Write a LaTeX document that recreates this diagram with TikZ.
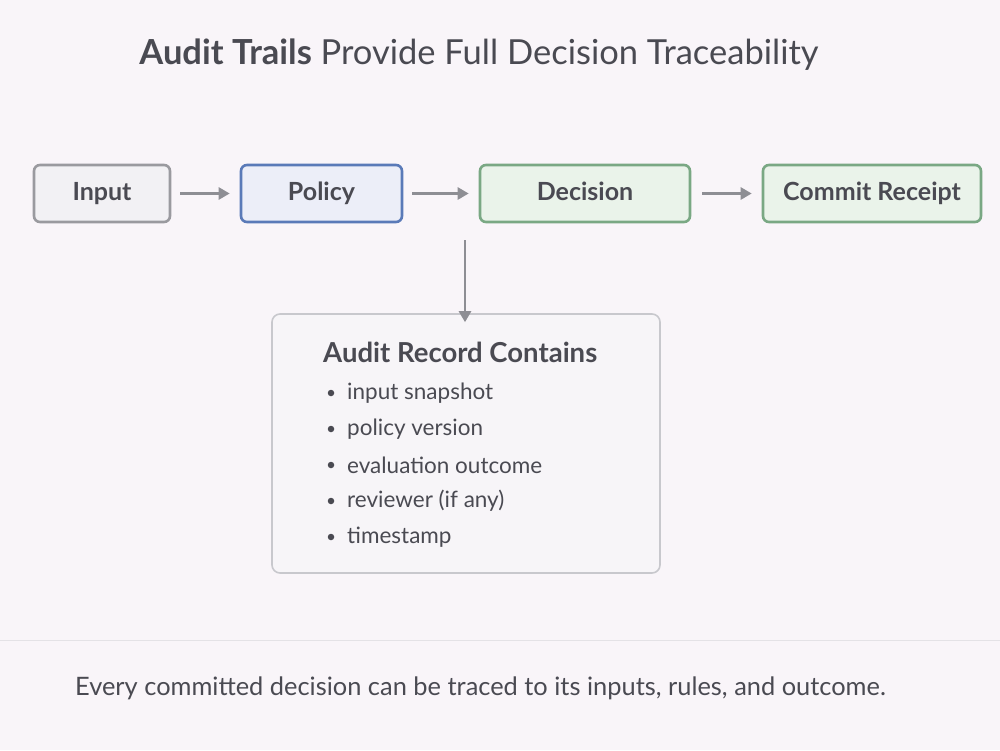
\documentclass[tikz,border=0pt]{standalone}
\usepackage{fontspec}
\setmainfont{Lato}
\usetikzlibrary{arrows.meta}
\definecolor{bg}{HTML}{F9F5F9}
\definecolor{txt}{HTML}{4A4A52}
\definecolor{grayb}{HTML}{9A9A9F}
\definecolor{grayf}{HTML}{F2F1F4}
\definecolor{blueb}{HTML}{5A7AB8}
\definecolor{bluef}{HTML}{ECEEF8}
\definecolor{greenb}{HTML}{7AA884}
\definecolor{greenf}{HTML}{EAF3EA}
\definecolor{arr}{HTML}{8E8E94}
\definecolor{panelb}{HTML}{C8C8CD}
\definecolor{panelf}{HTML}{F7F5F8}
\definecolor{sep}{HTML}{E4E2E6}
\tikzset{
  stage/.style={draw, line width=2.6pt, rounded corners=6pt, minimum height=57pt, text=txt, font=\fontsize{25}{30}\selectfont\bfseries, inner sep=0pt, text height=18pt, text depth=5pt},
  flow/.style={draw=arr, line width=2.6pt, -{Triangle[length=11pt,width=12pt]}},
  item/.style={anchor=west, text=txt, font=\fontsize{22.5}{27}\selectfont, inner sep=0pt},
  dot/.style={circle, fill=txt, inner sep=0pt, minimum size=6.5pt},
}
\begin{document}
\begin{tikzpicture}[x=1pt,y=-1pt]
\fill[bg] (0,0) rectangle (1000,750);
\useasboundingbox (0,0) rectangle (1000,750);
\node[text=txt, font=\fontsize{34.5}{40}\selectfont, anchor=center] (title) at (479,55) {\textbf{Audit Trails} Provide Full Decision Traceability};
\node[stage, draw=grayb, fill=grayf, minimum width=136pt] (input) at (102,193.5) {Input};
\node[stage, draw=blueb, fill=bluef, minimum width=161pt] (policy) at (321.5,193.5) {Policy};
\node[stage, draw=greenb, fill=greenf, minimum width=210pt] (decision) at (585,193.5) {Decision};
\node[stage, draw=greenb, fill=greenf, minimum width=218pt] (commit) at (872,193.5) {Commit Receipt};
\draw[flow] ([xshift=9pt]input.east) -- ([xshift=-10pt]policy.west);
\draw[flow] ([xshift=9pt]policy.east) -- ([xshift=-10pt]decision.west);
\draw[flow] ([xshift=11pt]decision.east) -- ([xshift=-10pt]commit.west);
\node[draw=panelb, fill=panelf, line width=1.6pt, rounded corners=8pt, minimum width=388pt, minimum height=259pt, inner sep=0pt] (panel) at (466,443.5) {};
\coordinate (dtop) at (465,240);
\draw[flow] (dtop) -- ([yshift=-9pt]panel.north -| dtop);
\node[anchor=west, text=txt, font=\fontsize{27.5}{32}\selectfont\bfseries, inner sep=0pt] (ptitle) at (323,352) {Audit Record Contains};
\foreach \y/\t/\n in {393/input snapshot/a, 429/policy version/b, 465/evaluation outcome/c, 501/reviewer (if any)/d, 537/timestamp/e}{
  \node[dot] (dot\n) at (331,\y) {};
  \node[item] (it\n) at (347,\y) {\t};
}
\coordinate (sl) at (0,640);
\coordinate (sr) at (1000,640);
\draw[sep, line width=1pt] (sl) -- (sr);
\node[anchor=west, text=txt, font=\fontsize{25.4}{30}\selectfont, inner sep=0pt] (foot) at (75,688) {Every committed decision can be traced to its inputs, rules, and outcome.};
\end{tikzpicture}
\end{document}
